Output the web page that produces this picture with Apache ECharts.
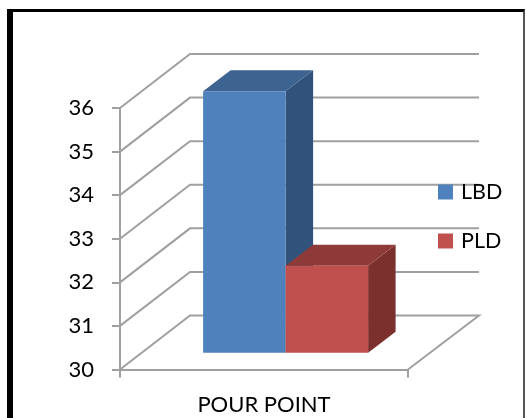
<!DOCTYPE html>
<html>
<head>
<meta charset="utf-8">
<style>
  html, body { margin: 0; padding: 0; background: #fff; }
  #chart { position: absolute; left: 0; top: 0; width: 526px; height: 418px; }
  #frame {
    position: absolute; left: 7px; top: 9px; width: 510px; height: 420px;
    border-left: 6px solid #000; border-top: 3px solid #000; border-right: 2px solid #555;
    pointer-events: none;
  }
</style>
<script src="https://cdn.jsdelivr.net/npm/echarts@6/dist/echarts.min.js"></script>
</head>
<body>
<div id="chart"></div>
<div id="frame"></div>
<script>
const categories = ['POUR POINT'];
const lbdValues = [36];
const pldValues = [32];
const yTicks = [30, 31, 32, 33, 34, 35, 36];

const FONT = 'Lato';
const AXIS_GREY = '#a0a0a0';
const AXIS_WIDTH = 2;

// Oblique projection: how far the back wall and the bars sit from the front plane
const WALL_DX = 70, WALL_DY = -54, WALL_WIDTH = 289;
const BAR_DX = 21.6, BAR_DY = -16.7, BAR_WIDTH = 82.5, DEPTH_DX = 27.5, DEPTH_DY = -21;

const chart = echarts.init(document.getElementById('chart'), null, { renderer: 'canvas' });

// Wall line for one tick: diagonal on the side wall, then across the back wall
function renderWallLine(params, api) {
  const v = api.value(1);
  const left = api.coord([0, v]);
  const x0 = params.coordSys.x;
  const y = left[1];
  const pts = [[x0, y], [x0 + WALL_DX, y + WALL_DY], [x0 + WALL_DX + WALL_WIDTH, y + WALL_DY]];
  if (v === yTicks[0]) pts.push([x0 + params.coordSys.width, y]);
  return {
    type: 'polyline',
    shape: { points: pts },
    style: { stroke: AXIS_GREY, lineWidth: AXIS_WIDTH, fill: null }
  };
}

// One box: front, top and side faces, offset by slot from the band centre
function boxRenderer(slot, front, top, side) {
  return function (params, api) {
    const c = api.coord([api.value(0), api.value(1)]);
    const base = api.coord([api.value(0), yTicks[0]]);
    const xl = c[0] + BAR_DX + slot * BAR_WIDTH;
    const xr = xl + BAR_WIDTH;
    const yt = c[1] + BAR_DY;
    const yb = base[1] + BAR_DY;
    const poly = (points, fill) => ({ type: 'polygon', shape: { points }, style: { fill } });
    return {
      type: 'group',
      children: [
        poly([[xr, yt], [xr + DEPTH_DX, yt + DEPTH_DY], [xr + DEPTH_DX, yb + DEPTH_DY], [xr, yb]], side),
        poly([[xl, yt], [xl + DEPTH_DX, yt + DEPTH_DY], [xr + DEPTH_DX, yt + DEPTH_DY], [xr, yt]], top),
        poly([[xl, yt], [xr, yt], [xr, yb], [xl, yb]], front)
      ]
    };
  };
}

chart.setOption({
  animation: false,
  backgroundColor: '#fff',
  grid: { left: 120, top: 108, width: 288, height: 261.5 },
  legend: {
    data: ['LBD', 'PLD'],
    orient: 'vertical',
    left: 438,
    top: 181,
    padding: 0,
    itemWidth: 15,
    itemHeight: 15,
    itemGap: 27,
    icon: 'rect',
    selectedMode: false,
    textStyle: { fontFamily: FONT, fontSize: 21.5, lineHeight: 15, color: '#000', padding: [0, 0, 0, 3] }
  },
  xAxis: {
    type: 'category',
    data: categories,
    boundaryGap: true,
    axisLine: { lineStyle: { color: AXIS_GREY, width: AXIS_WIDTH } },
    axisTick: { show: true, interval: 0, length: 8, lineStyle: { color: AXIS_GREY, width: AXIS_WIDTH } },
    axisLabel: { fontFamily: FONT, fontSize: 22, color: '#000', margin: 24 }
  },
  yAxis: {
    type: 'value',
    min: 30,
    max: 36,
    interval: 1,
    splitLine: { show: false },
    axisLine: { show: true, lineStyle: { color: AXIS_GREY, width: AXIS_WIDTH } },
    axisTick: { show: true, length: 8, lineStyle: { color: AXIS_GREY, width: AXIS_WIDTH } },
    axisLabel: { fontFamily: FONT, fontSize: 22, color: '#000', margin: 26, padding: [2, 0, 0, 0] }
  },
  series: [
    {
      type: 'custom',
      name: 'walls',
      silent: true,
      clip: false,
      z: 1,
      encode: { x: 0, y: 1 },
      renderItem: renderWallLine,
      data: yTicks.map(t => [0, t])
    },
    {
      type: 'custom',
      name: 'LBD',
      clip: false,
      z: 2,
      itemStyle: { color: '#4f81bd' },
      encode: { x: 0, y: 1 },
      renderItem: boxRenderer(-1, '#4f81bd', '#3d6390', '#31527a'),
      data: lbdValues.map((v, i) => [i, v])
    },
    {
      type: 'custom',
      name: 'PLD',
      clip: false,
      z: 3,
      itemStyle: { color: '#c0504d' },
      encode: { x: 0, y: 1 },
      renderItem: boxRenderer(0, '#c0504d', '#8e3a38', '#7c302e'),
      data: pldValues.map((v, i) => [i, v])
    }
  ]
});
</script>
</body>
</html>
